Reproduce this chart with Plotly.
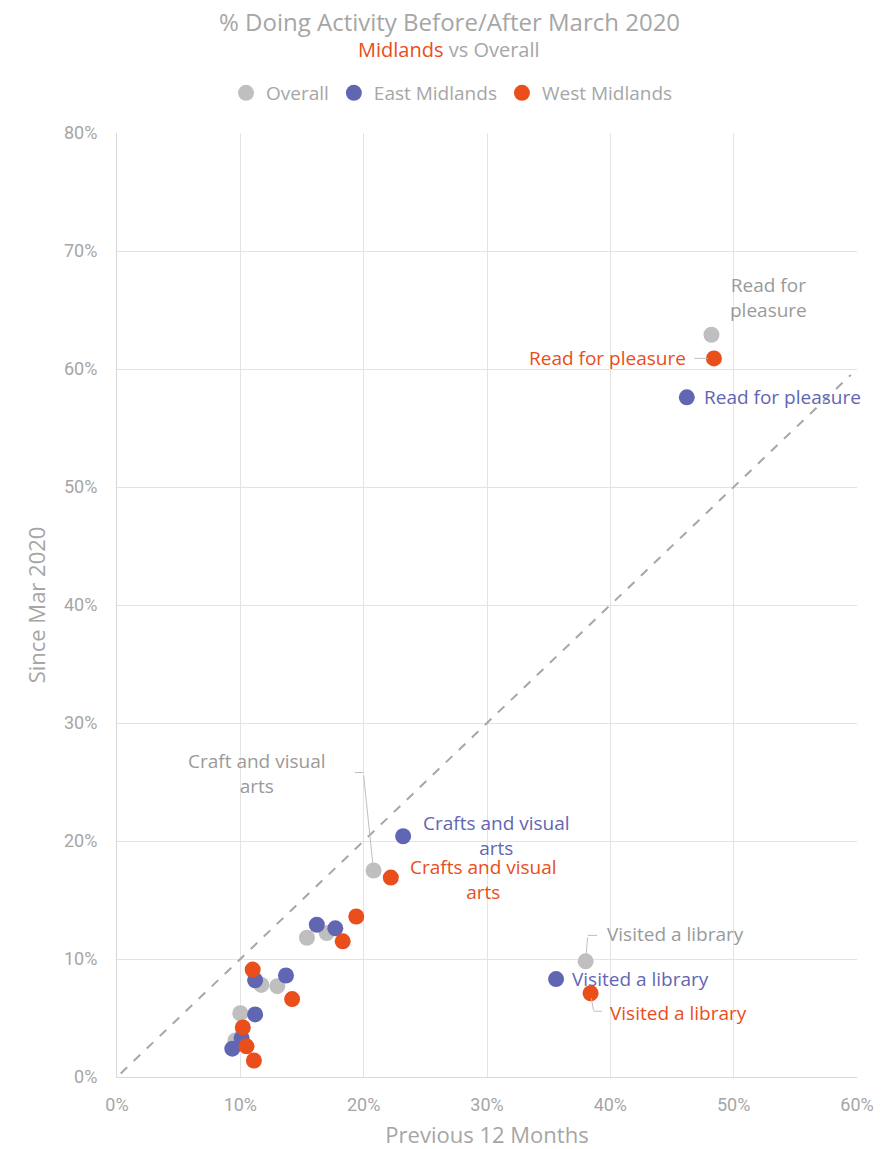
import plotly.graph_objects as go

# Share of people doing each activity: previous 12 months (x) vs since March 2020 (y), in %
overall_x = [48.2, 38.0, 20.8, 15.4, 17.0, 11.7, 13.0, 10.0, 9.6]
overall_y = [62.9, 9.8, 17.5, 11.8, 12.2, 7.8, 7.7, 5.4, 3.1]

east_x = [46.2, 35.6, 23.2, 16.2, 17.7, 13.7, 11.2, 11.2, 10.1, 9.35]
east_y = [57.6, 8.3, 20.4, 12.9, 12.6, 8.6, 8.2, 5.3, 3.3, 2.4]

west_x = [48.4, 38.4, 22.2, 19.4, 18.3, 11.0, 14.2, 10.2, 10.5, 11.1]
west_y = [60.9, 7.1, 16.9, 13.6, 11.5, 9.1, 6.6, 4.2, 2.6, 1.4]

# Reference line where both periods are equal
diag_x = [0.3, 59.5]
diag_y = [0.3, 59.5]

x_ticks = [0, 10, 20, 30, 40, 50, 60]
y_ticks = [0, 10, 20, 30, 40, 50, 60, 70, 80]

GREY = "#BFBFBF"
BLUE = "#6166B3"
ORANGE = "#E94E1B"
TEXT = "#A6A6A6"
LABEL_GREY = "#9A9A9A"
LEADER = "#BFBFBF"
FONT = "Open Sans"
TICK_FONT = "Roboto"
LABEL_SIZE = 19

fig = go.Figure()

fig.add_trace(go.Scatter(
    x=diag_x, y=diag_y, mode="lines",
    line=dict(color="#A6A6A6", width=2, dash="dash"),
    showlegend=False, hoverinfo="skip",
))

for name, xs, ys, col in [
    ("Overall", overall_x, overall_y, GREY),
    ("East Midlands", east_x, east_y, BLUE),
    ("West Midlands", west_x, west_y, ORANGE),
]:
    fig.add_trace(go.Scatter(
        x=xs, y=ys, mode="markers", name=name,
        marker=dict(color=col, size=16, line=dict(width=0)),
    ))


def label(x, y, text, color, xshift, yshift, xanchor="center"):
    return dict(x=x, y=y, text=text, showarrow=False, xanchor=xanchor,
                yanchor="middle", xshift=xshift, yshift=yshift,
                font=dict(color=color, size=LABEL_SIZE))


def leader(x, y, ax, ay, xshift=0, yshift=0, standoff=0):
    # thin connector drawn as an annotation arrow with no head and no text
    return dict(x=x, y=y, text=" ", showarrow=True, arrowhead=0,
                arrowwidth=1, arrowcolor=LEADER, ax=ax, ay=ay,
                xshift=xshift, yshift=yshift, standoff=standoff,
                font=dict(size=1), borderpad=0)


# horizontal centre of the page, in plot-area fractions
PAGE_MID = (449 - 117) / 740

annotations = [
    # Overall labels
    label(overall_x[0], overall_y[0], "Read for<br>pleasure", LABEL_GREY, 57, 37),
    label(overall_x[2], overall_y[2], "Craft and visual<br>arts", LABEL_GREY, -117, 97),
    leader(overall_x[2], overall_y[2], -10, -96, standoff=5),
    leader(overall_x[2], overall_y[2], -9, 0, xshift=-10, yshift=98),
    label(overall_x[1], overall_y[1], "Visited a library", LABEL_GREY, 19, 27, "left"),
    leader(overall_x[1], overall_y[1], 2, -25, standoff=5),
    leader(overall_x[1], overall_y[1], 10, 0, xshift=2, yshift=26),
    # East Midlands labels
    label(east_x[0], east_y[0], "Read for pleasure", BLUE, 15, 0, "left"),
    label(east_x[2], east_y[2], "Crafts and visual<br>arts", BLUE, 93, 1),
    label(east_x[1], east_y[1], "Visited a library", BLUE, 14, 0, "left"),
    # West Midlands labels
    label(west_x[0], west_y[0], "Read for pleasure", ORANGE, -26, 0, "right"),
    leader(west_x[0], west_y[0], -20, 0, standoff=6),
    label(west_x[2], west_y[2], "Crafts and visual<br>arts", ORANGE, 93, -2),
    label(west_x[1], west_y[1], "Visited a library", ORANGE, 17, -20, "left"),
    leader(west_x[1], west_y[1], 3, 18, standoff=5),
    leader(west_x[1], west_y[1], 9, 0, xshift=3, yshift=-18),
    # Title and subtitle
    dict(x=PAGE_MID, y=1.1176, xref="paper", yref="paper", xanchor="center",
         yanchor="middle", showarrow=False,
         text="% Doing Activity Before/After March 2020",
         font=dict(family=FONT, size=24, color=TEXT)),
    dict(x=PAGE_MID, y=1.088, xref="paper", yref="paper", xanchor="center",
         yanchor="middle", showarrow=False,
         text="<span style='color:#E94E1B'>Midlands</span> vs Overall",
         font=dict(family=FONT, size=20, color=TEXT)),
]

fig.update_layout(
    width=892, height=1149,
    margin=dict(l=117, r=35, t=133, b=72, autoexpand=False),
    paper_bgcolor="white", plot_bgcolor="white",
    font=dict(family=FONT, color=TEXT),
    legend=dict(
        orientation="h", x=(452 - 117) / 740, xref="paper", xanchor="center",
        y=1.0424, yref="paper", yanchor="middle",
        font=dict(family=FONT, size=19, color=TEXT),
        itemwidth=30, traceorder="normal",
    ),
    xaxis=dict(
        range=[0, 60], tickvals=x_ticks,
        ticktext=[f"{v}%" for v in x_ticks],
        showgrid=True, gridcolor="#E3E3E3", gridwidth=1,
        zeroline=False, showline=True, linecolor="#D9D9D9", linewidth=1,
        ticks="", tickfont=dict(family=TICK_FONT, size=18, color=TEXT),
        ticklabelstandoff=11,
        title=dict(text="Previous 12 Months", standoff=17,
                   font=dict(family=FONT, size=22, color=TEXT)),
        fixedrange=True,
    ),
    yaxis=dict(
        range=[0, 80], tickvals=y_ticks,
        ticktext=[f"{v}%" for v in y_ticks],
        showgrid=True, gridcolor="#E3E3E3", gridwidth=1,
        zeroline=False, showline=True, linecolor="#D9D9D9", linewidth=1,
        ticks="", tickfont=dict(family=TICK_FONT, size=18, color=TEXT),
        ticklabelstandoff=15,
        title=dict(text="Since Mar 2020", standoff=12,
                   font=dict(family=FONT, size=22, color=TEXT)),
        fixedrange=True,
    ),
    annotations=annotations,
)

fig.write_html("out.html")
